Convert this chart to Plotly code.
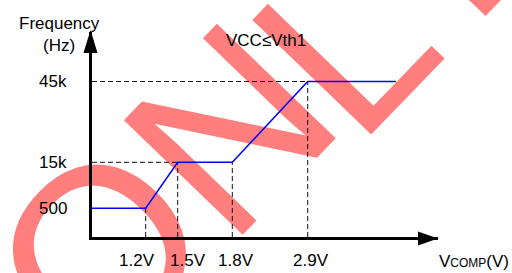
import plotly.graph_objects as go

# ---- data (schematic diagram) ----
volt_labels = ["1.2V", "1.5V", "1.8V", "2.9V"]
freq_labels = ["500", "15k", "45k"]
# schematic axis positions of the breakpoints (diagram units)
volt_pos = [5.37, 8.57, 14.03, 21.57]
freq_pos = [2.87, 7.47, 15.55]
x_end = 30.4
x_range = [0, 34.6]
y_range = [0, 20.5]

# ---- layout constants ----
W, H = 512, 273
ML, MR, MT, MB = 92, 74, 32, 36
PW, PH = W - ML - MR, H - MT - MB
FONT = "Liberation Sans, Arial, sans-serif"


def px_x(p):
    return (p - ML) / PW


def px_y(p):
    return (H - MB - p) / PH


curve_x = [0, volt_pos[0], volt_pos[1], volt_pos[2], volt_pos[3], x_end]
curve_y = [freq_pos[0], freq_pos[0], freq_pos[1], freq_pos[1], freq_pos[2], freq_pos[2]]

# dashed guide segments
seg_x, seg_y = [], []
for xs, ys in [
    ([0, volt_pos[1]], [freq_pos[1], freq_pos[1]]),
    ([0, volt_pos[3]], [freq_pos[2], freq_pos[2]]),
    ([volt_pos[0], volt_pos[0]], [0, freq_pos[0]]),
    ([volt_pos[1], volt_pos[1]], [0, freq_pos[1]]),
    ([volt_pos[2], volt_pos[2]], [0, freq_pos[1]]),
    ([volt_pos[3], volt_pos[3]], [0, freq_pos[2]]),
]:
    seg_x += xs + [None]
    seg_y += ys + [None]

fig = go.Figure()
fig.add_trace(go.Scatter(x=seg_x, y=seg_y, mode="lines",
                         line=dict(color="#111111", width=1, dash="5px,3px"),
                         hoverinfo="skip", showlegend=False))
fig.add_trace(go.Scatter(x=curve_x, y=curve_y, mode="lines",
                         line=dict(color="#0000ff", width=1.5),
                         showlegend=False))

annotations = []
# y labels
for lab, yv in zip(freq_labels, freq_pos):
    annotations.append(dict(text=lab, x=0, xref="paper", y=yv, yref="y",
                            xanchor="right", yanchor="middle", xshift=-23,
                            showarrow=False, font=dict(size=17, color="#000")))
# x labels
x_shifts = [-9, 10, 4, 3]
for lab, xv, xs in zip(volt_labels, volt_pos, x_shifts):
    annotations.append(dict(text=lab, x=xv, xref="x", y=0, yref="paper",
                            xanchor="center", yanchor="middle", xshift=xs, yshift=-23.5,
                            showarrow=False, font=dict(size=17, color="#000")))
# axis titles
annotations.append(dict(text="Frequency<br>(Hz)", x=0, xref="paper", y=1, yref="paper",
                        xanchor="center", yanchor="middle", xshift=-33, yshift=-2.5,
                        showarrow=False, font=dict(size=17, color="#000")))
annotations.append(dict(text="V<span style='font-size:12px'>COMP</span>(V)", x=1, xref="paper",
                        y=0, yref="paper", xanchor="center", yanchor="middle",
                        xshift=473.5 - (ML + PW), yshift=-24,
                        showarrow=False, font=dict(size=17, color="#000")))
annotations.append(dict(text="VCC≤Vth1", x=px_x(266), xref="paper", y=1, yref="paper",
                        xanchor="center", yanchor="middle", yshift=-8,
                        showarrow=False, font=dict(size=17, color="#000")))

# watermark pieces (text, centre x px, centre y px)
watermark = [("O", 83, 235), ("N", 213, 113), ("LY", 377, -24)]
shapes = []
for wtxt, cx, cy in watermark:
    shapes.append(dict(
        type="line", xref="paper", yref="paper",
        x0=px_x(cx - 1), x1=px_x(cx + 1), y0=px_y(cy), y1=px_y(cy),
        line=dict(color="rgba(0,0,0,0)", width=1), layer="below",
        label=dict(text=wtxt, textangle=-46, textposition="middle",
                   xanchor="center", yanchor="middle", padding=0,
                   font=dict(size=240, color="rgba(255,0,0,0.5)", family=FONT))))

shapes += [
    # x arrow head
    dict(type="path", xref="paper", yref="paper", layer="above",
         path=f"M{px_x(438)},{px_y(238.5)} L{px_x(418)},{px_y(231.5)} L{px_x(418)},{px_y(245.5)} Z",
         fillcolor="#000", line=dict(width=0)),
    # y arrow head
    dict(type="path", xref="paper", yref="paper", layer="above",
         path=f"M{px_x(90.5)},{px_y(30)} L{px_x(83.5)},{px_y(53)} L{px_x(97.5)},{px_y(53)} Z",
         fillcolor="#000", line=dict(width=0)),
]

axis_common = dict(showgrid=False, zeroline=False, showticklabels=False, ticks="",
                   showline=True, linecolor="#000", linewidth=3, fixedrange=True)
fig.update_layout(
    width=W, height=H,
    margin=dict(l=ML, r=MR, t=MT, b=MB),
    paper_bgcolor="white", plot_bgcolor="rgba(0,0,0,0)",
    font=dict(family=FONT, size=17, color="#000"),
    xaxis=dict(range=x_range, **axis_common),
    yaxis=dict(range=y_range, **axis_common),
    annotations=annotations, shapes=shapes,
)

fig.write_html("out.html", config={"displayModeBar": False},
               post_script="document.body.style.margin='0';")
